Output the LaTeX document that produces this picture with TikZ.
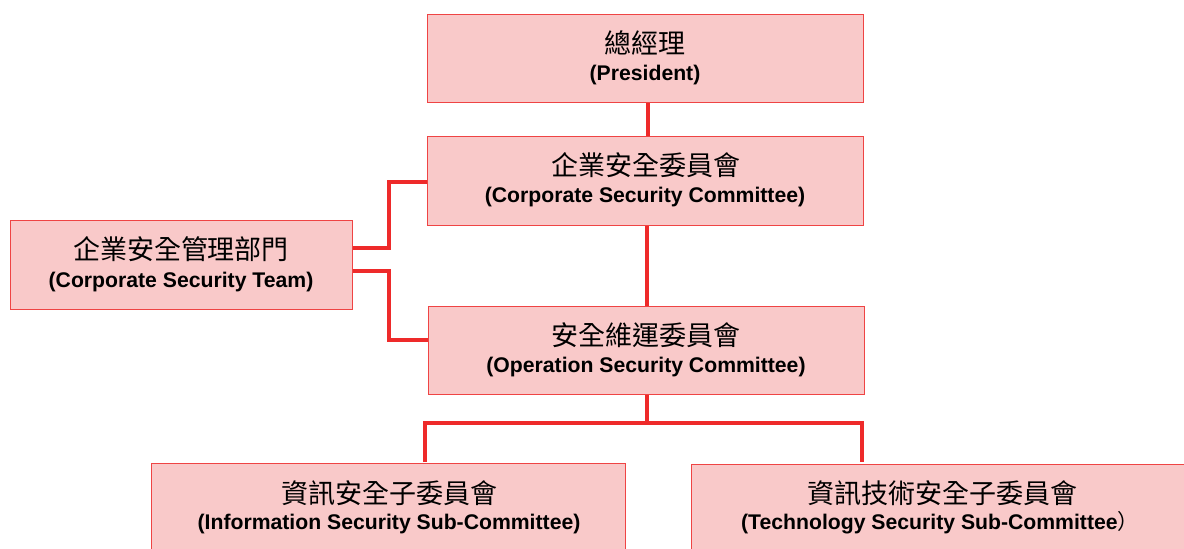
\documentclass[tikz,border=0pt]{standalone}
\usepackage{fontspec}
\setmainfont{Liberation Sans}
\newfontfamily\cjk{Noto Sans CJK TC}
\definecolor{boxfill}{HTML}{F9C9C9}
\definecolor{boxline}{HTML}{EF4444}
\definecolor{linkred}{HTML}{EE2A2A}
\begin{document}
\begin{tikzpicture}[x=1pt,y=-1pt,
  orgbox/.style={draw=boxline,line width=1.4pt,fill=boxfill,inner sep=0pt,anchor=north west},
  zhtext/.style={anchor=base,inner sep=0pt,font=\cjk\fontsize{27}{30}\selectfont},
  entext/.style={anchor=base,inner sep=0pt,font=\bfseries\fontsize{21.2}{24}\selectfont},
  link/.style={draw=linkred,line width=4pt}]
\useasboundingbox (0,0) rectangle (1184,549);
% boxes
\node[orgbox,minimum width=436pt,minimum height=88pt] (pres) at (427,14) {};
\node[orgbox,minimum width=436pt,minimum height=89pt] (csc) at (427,136) {};
\node[orgbox,minimum width=342pt,minimum height=89pt] (team) at (10,220) {};
\node[orgbox,minimum width=436pt,minimum height=88pt] (osc) at (428,306) {};
\node[orgbox,minimum width=474pt,minimum height=100pt] (info) at (151,463) {};
\node[orgbox,minimum width=500pt,minimum height=100pt] (tech) at (691,464) {};
% texts
\node[zhtext] (pres-zh) at (645,53) {總經理};
\node[entext] (pres-en) at (645,80) {(President)};
\node[zhtext] (csc-zh) at (646,175.5) {企業安全委員會};
\node[entext] (csc-en) at (645,202.5) {(Corporate Security Committee)};
\node[zhtext] (team-zh) at (181,259) {企業安全管理部門};
\node[entext] (team-en) at (181,287) {(Corporate Security Team)};
\node[zhtext] (osc-zh) at (646,345.5) {安全維運委員會};
\node[entext] (osc-en) at (646,372.5) {(Operation Security Committee)};
\node[zhtext] (info-zh) at (389,503) {資訊安全子委員會};
\node[entext] (info-en) at (389,529.5) {(Information Security Sub-Committee)};
\node[zhtext] (tech-zh) at (942,503) {資訊技術安全子委員會};
\node[entext] (tech-en) at (940,529.5) {(Technology Security Sub-Committee{\cjk\mdseries ）}};
% connectors
\coordinate (infotop) at (425,462);
\coordinate (techtop) at (862,462);
\draw[link] (pres.south -| 648,0) -- (csc.north -| 648,0);
\draw[link] (csc.south -| 647,0) -- (osc.north -| 647,0);
\draw[link] (team.east |- 0,248) -| (389,182) -- (csc.west |- 0,182);
\draw[link] (team.east |- 0,271) -| (389,340) -- (osc.west |- 0,340);
\draw[link] (osc.south -| 647,0) -- (647,423);
\draw[link] (infotop) |- (647,423) -| (techtop);
\end{tikzpicture}
\end{document}
